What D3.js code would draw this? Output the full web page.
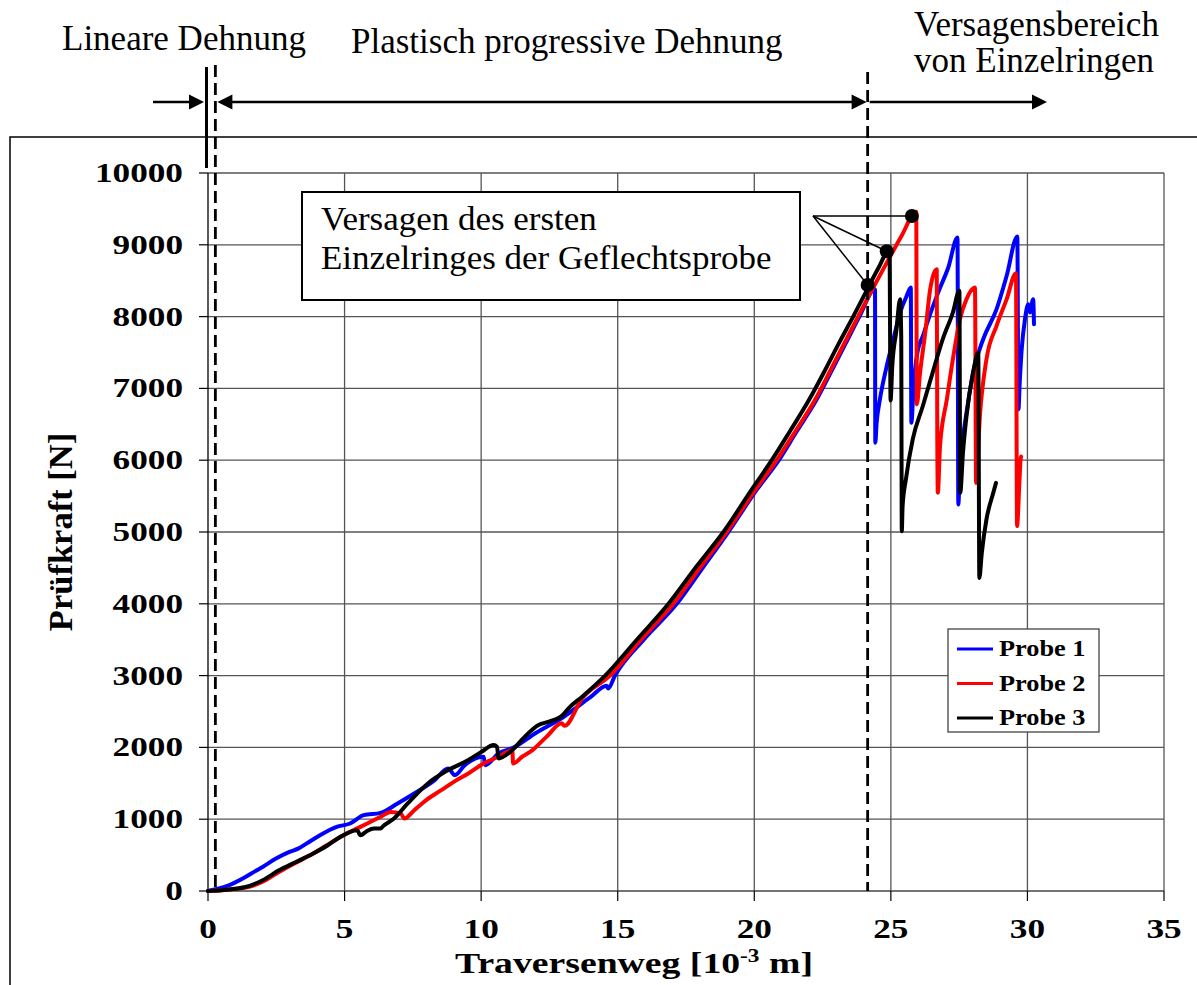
<!DOCTYPE html>
<html><head><meta charset="utf-8">
<script src="https://cdn.jsdelivr.net/npm/d3@7/dist/d3.min.js"></script>
<style>body{margin:0;background:#fff}svg{display:block}</style>
</head><body><svg id="c" width="1197" height="985"></svg>
<script>
// ---------------- data ----------------
const xTicks = [0, 5, 10, 15, 20, 25, 30, 35];
const yTicks = [0, 1000, 2000, 3000, 4000, 5000, 6000, 7000, 8000, 9000, 10000];
const xTitleMain = "Traversenweg [10";
const xTitleSup = "-3";
const xTitleEnd = " m]";
const yTitle = "Prüfkraft [N]";
const seriesNames = ["Probe 1", "Probe 2", "Probe 3"];
const seriesColors = ["#0000ff", "#ff0000", "#000000"];

const probe1X = [0, 0.4, 0.76, 1.0, 1.37, 1.7, 2.0, 2.49, 2.98, 3.3, 3.6, 4.1, 4.71, 5.2, 5.7, 6.32, 6.94, 7.55, 8.3, 8.79, 9.04, 9.4, 10.09, 10.15, 10.64, 11.2, 12.0, 13.0, 14.0, 14.6, 14.65, 14.9, 15.95, 17.16, 18.15, 19.05, 20.1, 20.9, 21.55, 22.25, 22.85, 23.35, 23.85, 24.42,
  24.43, 24.48, 24.6, 24.85, 25.09, 25.34, 25.58, 25.73,
  25.75, 25.83, 25.95, 26.2, 26.5, 26.8, 27.1, 27.44,
  27.47, 27.53, 27.65, 27.77, 28.01, 28.38, 28.87, 29.24, 29.63,
  29.67, 29.72, 29.79, 29.91, 30.03, 30.09, 30.21, 30.24];
const probe1Y = [0, 35, 79, 120, 195, 270, 335, 451, 544, 590, 660, 777, 893, 940, 1056, 1088, 1219, 1358, 1544, 1707, 1614, 1753, 1870, 1753, 1916, 2000, 2200, 2420, 2700, 2860, 2820, 3000, 3500, 4000, 4523, 5000, 5593, 6000, 6400, 6823, 7260, 7630, 8000, 8380,
  6244, 6523, 6848, 7313, 7685, 8057, 8289, 8405,
  6523, 7000, 7452, 7760, 8100, 8400, 8680, 9103,
  5383, 5918, 6350, 6662, 7220, 7685, 8103, 8568, 9117,
  6709, 7100, 7545, 7964, 8173, 8057, 8243, 7894];

const probe2X = [0, 0.5, 1.0, 1.37, 2.0, 2.6, 3.2, 3.85, 4.4, 4.84, 5.58, 6.32, 6.69, 7.06, 7.19, 7.55, 8.0, 8.54, 9.0, 9.53, 10.09, 10.64, 11.14, 11.17, 11.5, 11.88, 12.4, 12.95, 13.05, 13.7, 14.72, 15.85, 17.04, 18.05, 18.99, 20.05, 20.82, 21.5, 22.2, 22.8, 23.3, 23.8, 24.35, 24.85, 25.4, 25.93,
  25.95, 26.07, 26.26, 26.44, 26.62, 26.68,
  26.7, 26.72, 26.8, 27.05, 27.29, 27.53, 27.77, 28.08,
  28.12, 28.26, 28.5, 28.87, 29.24, 29.58,
  29.62, 29.7, 29.75, 29.77];
const probe2Y = [0, 10, 30, 47, 130, 265, 390, 521, 650, 753, 893, 1033, 1102, 1079, 1009, 1126, 1270, 1405, 1520, 1637, 1777, 1870, 1963, 1777, 1870, 1963, 2150, 2335, 2300, 2684, 3000, 3500, 4000, 4523, 5000, 5593, 6000, 6400, 6823, 7260, 7630, 8000, 8400, 8750, 9130, 9460,
  6778, 7220, 7778, 8382, 8638, 8661,
  6290, 5546, 6197, 6848, 7452, 7964, 8243, 8405,
  5685, 6616, 7406, 7871, 8243, 8605,
  5082, 5639, 6011, 6050];

const probe3X = [0, 0.5, 1.0, 1.37, 2.0, 2.6, 3.2, 3.85, 4.4, 4.84, 5.46, 5.58, 5.8, 6.07, 6.32, 6.4, 6.81, 7.31, 8.05, 8.79, 9.53, 10.02, 10.46, 10.58, 10.64, 11.14, 11.6, 12.1, 12.48, 12.99, 13.2, 13.7, 14.54, 15.7, 16.86, 17.89, 18.87, 19.91, 20.64, 21.3, 21.98, 22.6, 23.1, 23.62, 24.15, 24.55, 24.95,
  24.99, 25.05, 25.2, 25.34, 25.38,
  25.40, 25.43, 25.55, 25.8, 26.17, 26.53, 26.9, 27.27, 27.51,
  27.54, 27.64, 27.77, 28.01, 28.2,
  28.24, 28.33, 28.5, 28.75, 28.85];
const probe3Y = [0, 10, 30, 56, 150, 288, 400, 521, 640, 753, 847, 777, 830, 870, 870, 900, 1009, 1219, 1498, 1684, 1823, 1940, 2033, 2009, 1847, 1963, 2150, 2312, 2358, 2451, 2545, 2707, 3000, 3500, 4000, 4523, 5000, 5593, 6000, 6400, 6823, 7260, 7630, 8000, 8390, 8680, 8930,
  6832, 7300, 7800, 8243, 7700,
  5011, 5360, 5732, 6290, 6755, 7220, 7685, 8057, 8359,
  5546, 6104, 6616, 7220, 7499,
  4361, 4710, 5175, 5546, 5685];

// first single-ring failure of each probe (marked with dots)
const failX = [24.15, 24.85, 25.77];
const failY = [8440, 8910, 9414];
// boundaries between deformation phases (dashed lines)
const phaseBounds = [0.27, 24.15];
const phaseLabels = ["Lineare Dehnung", "Plastisch progressive Dehnung"];
const failZoneLabel = ["Versagensbereich", "von Einzelringen"];
const noteLines = ["Versagen des ersten", "Einzelringes der Geflechtsprobe"];

// ---------------- drawing ----------------
const svg = d3.select("#c");
const x = d3.scaleLinear().domain([0, 35]).range([208, 1164]);
const y = d3.scaleLinear().domain([0, 10000]).range([891, 173]);
const serif = "'Liberation Serif','Times New Roman',serif";

svg.append("rect").attr("width", 1197).attr("height", 985).attr("fill", "#fff");

// outer frame
svg.append("path").attr("d", "M10,985 L10,137 L1197,137")
  .attr("fill", "none").attr("stroke", "#000").attr("stroke-width", 1.5);

// grid
const grid = svg.append("g");
xTicks.filter(v => v > 0).forEach(v => grid.append("line")
  .attr("x1", x(v)).attr("x2", x(v)).attr("y1", y(0)).attr("y2", y(10000))
  .attr("stroke", "#555").attr("stroke-width", 1.3));
yTicks.filter(v => v > 0).forEach(v => grid.append("line")
  .attr("x1", x(0)).attr("x2", x(35)).attr("y1", y(v)).attr("y2", y(v))
  .attr("stroke", "#555").attr("stroke-width", 1.3));

// axes
svg.append("line").attr("x1", x(0)).attr("x2", x(0)).attr("y1", y(0)).attr("y2", y(10000))
  .attr("stroke", "#000").attr("stroke-width", 1.3);
svg.append("line").attr("x1", x(0)).attr("x2", x(35)).attr("y1", y(0)).attr("y2", y(0))
  .attr("stroke", "#444").attr("stroke-width", 1.5);
yTicks.forEach(v => {
  svg.append("line").attr("x1", x(0) - 9).attr("x2", x(0)).attr("y1", y(v)).attr("y2", y(v))
    .attr("stroke", "#000").attr("stroke-width", 1.2);
  svg.append("text").attr("transform", `translate(183,${y(v) + 9}) scale(1.33,1)`)
    .attr("text-anchor", "end").attr("font-family", serif).attr("font-weight", "bold")
    .attr("font-size", 26.5).text(v);
});
xTicks.forEach(v => {
  svg.append("line").attr("x1", x(v)).attr("x2", x(v)).attr("y1", y(0)).attr("y2", y(0) + 10)
    .attr("stroke", "#000").attr("stroke-width", 1.2);
  svg.append("text").attr("transform", `translate(${x(v)},938) scale(1.33,1)`)
    .attr("text-anchor", "middle").attr("font-family", serif).attr("font-weight", "bold")
    .attr("font-size", 26.5).text(v);
});

// axis titles
const xt = svg.append("text").attr("transform", "translate(634,973) scale(1.3,1)")
  .attr("text-anchor", "middle").attr("font-family", serif).attr("font-weight", "bold")
  .attr("font-size", 29);
xt.append("tspan").text(xTitleMain);
xt.append("tspan").attr("font-size", 18).attr("dy", -11).text(xTitleSup);
xt.append("tspan").attr("dy", 11).text(xTitleEnd);

svg.append("text").attr("transform", "translate(72,532) rotate(-90)")
  .attr("text-anchor", "middle").attr("font-family", serif).attr("font-weight", "bold")
  .attr("font-size", 34.5).text(yTitle);

// series
const series = [[probe1X, probe1Y], [probe2X, probe2Y], [probe3X, probe3Y]];
const line = d3.line().x(d => x(d[0])).y(d => y(d[1])).curve(d3.curveMonotoneX);
series.forEach((s, i) => {
  const pts = s[0].map((v, k) => [v, s[1][k]]);
  svg.append("path").datum(pts).attr("d", line)
    .attr("fill", "none").attr("stroke", seriesColors[i]).attr("stroke-width", 4)
    .attr("stroke-linejoin", "round").attr("stroke-linecap", "round");
});

// phase boundaries (dashed)
svg.append("line").attr("x1", x(phaseBounds[0])).attr("x2", x(phaseBounds[0]))
  .attr("y1", 65).attr("y2", y(0)).attr("stroke", "#000").attr("stroke-width", 2.8)
  .attr("stroke-dasharray", "12,6");
svg.append("line").attr("x1", x(phaseBounds[1])).attr("x2", x(phaseBounds[1]))
  .attr("y1", 72).attr("y2", y(0)).attr("stroke", "#000").attr("stroke-width", 2.8)
  .attr("stroke-dasharray", "12,6");
// solid marker at origin above plot
svg.append("line").attr("x1", x(0) - 1.5).attr("x2", x(0) - 1.5).attr("y1", 67).attr("y2", 168)
  .attr("stroke", "#000").attr("stroke-width", 3);

// arrows
const ay = 102;
function head(tipX, dir) {
  const L = 15, H = 7.5;
  svg.append("path").attr("d", `M${tipX},${ay} L${tipX - dir * L},${ay - H} L${tipX - dir * L},${ay + H} Z`).attr("fill", "#000");
}
function hline(a, b) {
  svg.append("line").attr("x1", a).attr("x2", b).attr("y1", ay).attr("y2", ay)
    .attr("stroke", "#000").attr("stroke-width", 2.5);
}
hline(153, x(0) - 10); head(x(0) - 4, 1);
hline(x(phaseBounds[0]) + 8, x(phaseBounds[1]) - 8);
head(x(phaseBounds[0]) + 2, -1); head(x(phaseBounds[1]) - 1, 1);
hline(x(phaseBounds[1]) + 2, 1035); head(1047, 1);

// top labels
function label(t, px, py) {
  svg.append("text").attr("x", px).attr("y", py).attr("font-family", serif)
    .attr("font-size", 35).text(t);
}
label(phaseLabels[0], 62, 50);
label(phaseLabels[1], 351, 53);
label(failZoneLabel[0], 914, 36);
label(failZoneLabel[1], 914, 72);

// annotation box
svg.append("rect").attr("x", 302).attr("y", 192).attr("width", 498).attr("height", 108)
  .attr("fill", "#fff").attr("stroke", "#000").attr("stroke-width", 2);
noteLines.forEach((t, i) => {
  svg.append("text").attr("transform", `translate(321,${230 + i * 39}) scale(1.06,1)`)
    .attr("font-family", serif).attr("font-size", 33).text(t);
});

// leader lines and dots
const ox = 813, oy = 216;
failX.forEach((v, i) => {
  svg.append("line").attr("x1", ox).attr("y1", oy).attr("x2", x(v)).attr("y2", i === 2 ? oy : y(failY[i]))
    .attr("stroke", "#000").attr("stroke-width", 1.5);
});
failX.forEach((v, i) => {
  svg.append("circle").attr("cx", x(v)).attr("cy", i === 2 ? oy : y(failY[i])).attr("r", 7).attr("fill", "#000");
});

// legend
const lg = svg.append("g");
lg.append("rect").attr("x", 948).attr("y", 629).attr("width", 151).attr("height", 103)
  .attr("fill", "#fff").attr("stroke", "#444").attr("stroke-width", 1.3);
seriesNames.forEach((n, i) => {
  const yy = 649 + i * 34.5;
  lg.append("line").attr("x1", 957).attr("x2", 993).attr("y1", yy).attr("y2", yy)
    .attr("stroke", seriesColors[i]).attr("stroke-width", 3);
  lg.append("text").attr("transform", `translate(999,${yy + 7}) scale(1.17,1)`)
    .attr("font-family", serif).attr("font-weight", "bold").attr("font-size", 22.5).text(n);
});
</script></body></html>
